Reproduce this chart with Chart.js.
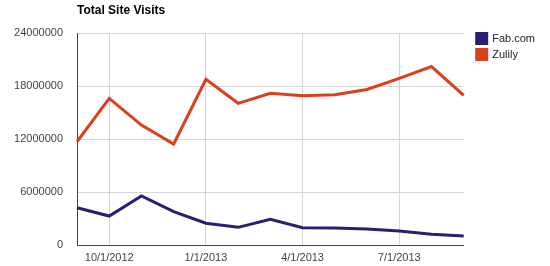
<!DOCTYPE html>
<html>
<head>
<meta charset="utf-8">
<script src="https://cdn.jsdelivr.net/npm/chart.js@4"></script>
<style>
  html, body { margin: 0; padding: 0; background: #fff; }
  #wrap { width: 550px; height: 266px; }
</style>
</head>
<body>
<div id="wrap"><canvas id="visits"></canvas></div>
<script>
// monthly visits
const months = ['9/1/2012', '10/1/2012', '11/1/2012', '12/1/2012', '1/1/2013', '2/1/2013', '3/1/2013',
                '4/1/2013', '5/1/2013', '6/1/2013', '7/1/2013', '8/1/2013', '9/1/2013'];
const fab = [4220000, 3280000, 5550000, 3770000, 2460000, 2000000, 2910000,
             1960000, 1920000, 1810000, 1580000, 1210000, 1020000];
const zulily = [11690000, 16600000, 13580000, 11430000, 18760000, 16040000, 17170000,
                16900000, 17000000, 17600000, 18870000, 20200000, 16940000];
const shownMonths = ['10/1/2012', '1/1/2013', '4/1/2013', '7/1/2013'];

const title = 'Total Site Visits';

const font = "'Liberation Sans', Arial, sans-serif";

// title drawn over the plot's left edge, like the original
const titlePlugin = {
    id: 'leftTitle',
    afterLayout(chart) {
        // nudge legend so it sits next to the plot top
        const lg = chart.legend;
        if (lg) {
            lg.left += 8; lg.right += 8;
            lg.top -= 5; lg.bottom -= 5;
        }
    },
    afterDraw(chart) {
        const c = chart.ctx;
        c.save();
        c.font = 'bold 12px ' + font;
        c.fillStyle = '#000';
        c.textBaseline = 'middle';
        c.fillText(title, chart.chartArea.left, 11);
        c.restore();
    }
};

new Chart(document.getElementById('visits'), {
    type: 'line',
    data: {
        labels: months,
        datasets: [
            {
                label: 'Fab.com',
                data: fab,
                borderColor: '#2d1c6f',
                backgroundColor: '#2d1c6f',
                borderWidth: 3,
                pointRadius: 0,
                tension: 0
            },
            {
                label: 'Zulily',
                data: zulily,
                borderColor: '#d8411d',
                backgroundColor: '#d8411d',
                borderWidth: 3,
                pointRadius: 0,
                tension: 0
            }
        ]
    },
    options: {
        responsive: true,
        maintainAspectRatio: false,
        animation: false,
        layout: {
            padding: { top: 33, right: 13, bottom: 0, left: 0 }
        },
        scales: {
            x: {
                offset: false,
                border: { color: '#444', width: 1 },
                afterFit: function (scale) { scale.height = 21; },
                grid: {
                    drawTicks: false,
                    color: function (ctx) {
                        return shownMonths.includes(months[ctx.index]) ? '#d6d6d6' : 'rgba(0,0,0,0)';
                    }
                },
                ticks: {
                    autoSkip: false,
                    maxRotation: 0,
                    padding: 6,
                    color: '#444',
                    font: { family: font, size: 11 },
                    callback: function (val, i) {
                        return shownMonths.includes(months[i]) ? months[i] : '';
                    }
                }
            },
            y: {
                min: 0,
                max: 24000000,
                border: { color: '#444', width: 1 },
                grid: { drawTicks: false, color: '#d6d6d6' },
                afterFit: function (scale) { scale.width = 77; },
                ticks: {
                    stepSize: 6000000,
                    padding: 14,
                    color: '#444',
                    font: { family: font, size: 11 },
                    callback: function (v) { return String(v); }
                }
            }
        },
        plugins: {
            title: { display: false },
            tooltip: { enabled: false },
            legend: {
                position: 'right',
                align: 'start',
                labels: {
                    boxWidth: 10,
                    boxHeight: 10,
                    padding: 5,
                    color: '#222',
                    font: { family: font, size: 11 }
                }
            }
        }
    },
    plugins: [titlePlugin]
});
</script>
</body>
</html>
